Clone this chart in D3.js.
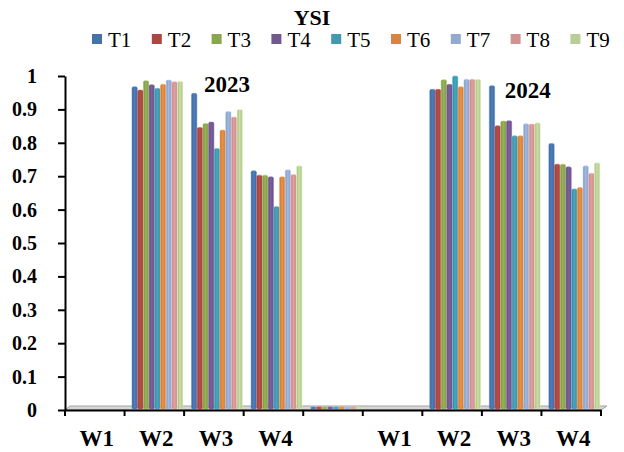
<!DOCTYPE html>
<html>
<head>
<meta charset="utf-8">
<script src="https://cdn.jsdelivr.net/npm/d3@7/dist/d3.min.js"></script>
<style>
  html, body { margin: 0; padding: 0; background: #ffffff; }
  svg text { font-family: 'Liberation Serif', 'DejaVu Serif', serif !important; }
</style>
</head>
<body>
<svg id="chart" width="624" height="452"></svg>
<script>
// Week categories for the two seasons; the blank slot separates 2023 from 2024
const categories = ['W1', 'W2', 'W3', 'W4', '', 'W1', 'W2', 'W3', 'W4'];
const seriesNames = ['T1', 'T2', 'T3', 'T4', 'T5', 'T6', 'T7', 'T8', 'T9'];
const seriesColors = ['#4672AA', '#AA4643', '#89A54E', '#71588F', '#4198AF', '#DB843D', '#93A9CF', '#D19392', '#B9CD96'];
const yearLabels = ['2023', '2024'];
const yTickValues = [0, 0.1, 0.2, 0.3, 0.4, 0.5, 0.6, 0.7, 0.8, 0.9, 1];
const yTickLabels = ['0', '0.1', '0.2', '0.3', '0.4', '0.5', '0.6', '0.7', '0.8', '0.9', '1'];

// YSI per treatment, one entry per category slot (null = no value)
const T1 = [null, 0.968, 0.948, 0.716, 0, null, 0.960, 0.971, 0.798];
const T2 = [null, 0.958, 0.846, 0.703, 0, null, 0.960, 0.851, 0.736];
const T3 = [null, 0.986, 0.858, 0.703, 0, null, 0.989, 0.865, 0.736];
const T4 = [null, 0.974, 0.862, 0.698, 0, null, 0.975, 0.866, 0.728];
const T5 = [null, 0.963, 0.783, 0.609, 0, null, 1.000, 0.821, 0.662];
const T6 = [null, 0.975, 0.838, 0.698, 0, null, 0.968, 0.821, 0.666];
const T7 = [null, 0.988, 0.894, 0.719, 0, null, 0.990, 0.857, 0.731];
const T8 = [null, 0.983, 0.877, 0.705, 0, null, 0.990, 0.856, 0.709];
const T9 = [null, 0.984, 0.900, 0.731, 0, null, 0.990, 0.860, 0.740];

const seriesValues = [T1, T2, T3, T4, T5, T6, T7, T8, T9];
const series = seriesNames.map((name, i) => ({ name, color: seriesColors[i], values: seriesValues[i] }));

const FONT = "'Liberation Serif', 'DejaVu Serif', serif";
const svg = d3.select('#chart');
const plot = { left: 65, right: 601, top: 76, bottom: 410 };
const depth = 5; // offset of the 3D floor

const x = d3.scaleBand().domain(d3.range(categories.length)).range([plot.left, plot.right]).paddingInner(0).paddingOuter(0);
const xs = d3.scaleBand().domain(seriesNames)
  .range([x.bandwidth() * 0.125, x.bandwidth() * 0.985]).padding(0);
const y = d3.scaleLinear().domain([0, 1]).range([plot.bottom, plot.top]);

// Shaded fills that give each column a rounded, lit look
const defs = svg.append('defs');
series.forEach((s, i) => {
  const c = d3.color(s.color);
  const g = defs.append('linearGradient').attr('id', 'grad' + i)
    .attr('x1', '0%').attr('x2', '100%').attr('y1', '0%').attr('y2', '0%');
  g.append('stop').attr('offset', '0%').attr('stop-color', c.darker(0.35).formatHex());
  g.append('stop').attr('offset', '45%').attr('stop-color', c.brighter(0.25).formatHex());
  g.append('stop').attr('offset', '80%').attr('stop-color', c.formatHex());
  g.append('stop').attr('offset', '100%').attr('stop-color', c.darker(0.3).formatHex());
});

// Floor slab
svg.append('polygon')
  .attr('points', [[plot.left, plot.bottom], [plot.left + depth, plot.bottom - depth + 1],
                   [plot.right + depth + 1, plot.bottom - depth + 1], [plot.right, plot.bottom]].map(p => p.join(',')).join(' '))
  .attr('fill', '#d6d6d6').attr('stroke', '#a3a3a3').attr('stroke-width', 1);

// Columns
const barGroup = svg.append('g');
series.forEach((s, i) => {
  barGroup.selectAll(null)
    .data(s.values.map((v, k) => ({ v, k })).filter(d => d.v !== null))
    .join('rect')
    .attr('x', d => x(d.k) + xs(s.name))
    .attr('width', xs.bandwidth() - 0.4)
    .attr('y', d => Math.min(y(d.v), plot.bottom - 3))
    .attr('height', d => Math.max(plot.bottom - 1 - y(d.v), 2))
    .attr('rx', 1.5)
    .attr('fill', `url(#grad${i})`)
    .attr('stroke', d3.color(s.color).brighter(0.6).formatHex())
    .attr('stroke-width', 0.5);
});

// Y axis
const yAxis = d3.axisLeft(y).tickValues(yTickValues)
  .tickFormat((d, i) => yTickLabels[i]).tickSize(7).tickSizeOuter(0).tickPadding(21);
const gy = svg.append('g').attr('transform', `translate(${plot.left},0)`).call(yAxis)
  .attr('font-family', FONT);
gy.select('.domain').attr('stroke', '#000').attr('stroke-width', 2);
gy.selectAll('.tick line').attr('stroke', '#000').attr('stroke-width', 2);
gy.selectAll('.tick text').attr('font-size', 20).attr('font-weight', 'bold')
  .attr('font-family', FONT).attr('fill', '#000');

// X axis: labels centred in each slot, ticks on the slot boundaries
const xAxis = d3.axisBottom(x).tickFormat(k => categories[k]).tickSize(0).tickSizeOuter(0).tickPadding(20);
const gx = svg.append('g').attr('transform', `translate(0,${plot.bottom})`).call(xAxis)
  .attr('font-family', FONT);
gx.select('.domain').attr('stroke', '#000').attr('stroke-width', 2);
gx.selectAll('.tick text').attr('font-size', 23).attr('font-weight', 'bold')
  .attr('font-family', FONT).attr('fill', '#000')
  .attr('dx', 2);
gx.selectAll('.boundary')
  .data(d3.range(categories.length + 1))
  .join('line')
  .attr('class', 'boundary')
  .attr('x1', k => plot.left + k * x.step()).attr('x2', k => plot.left + k * x.step())
  .attr('y1', 0).attr('y2', 6)
  .attr('stroke', '#000').attr('stroke-width', 2);

// Season labels above the W3 columns of each year
const yearSlots = [2, 7];
const yearOffsets = [13, 16];
const yearLevels = [0.952, 0.934];
svg.append('g').selectAll('text')
  .data(yearLabels)
  .join('text')
  .attr('x', (d, i) => x(yearSlots[i]) + x.bandwidth() / 2 + yearOffsets[i])
  .attr('y', (d, i) => y(yearLevels[i]))
  .attr('text-anchor', 'middle')
  .attr('font-family', FONT)
  .attr('font-size', 23).attr('font-weight', 'bold')
  .text(d => d);

// Title
svg.append('text').attr('x', 312).attr('y', 25).attr('text-anchor', 'middle')
  .attr('font-family', FONT)
  .attr('font-size', 22).attr('font-weight', 'bold').text('YSI');

// Legend
const legend = svg.append('g').attr('transform', 'translate(92,0)');
const items = legend.selectAll('g').data(series).join('g')
  .attr('transform', (d, i) => `translate(${i * 59.8},0)`);
items.append('rect').attr('x', 0).attr('y', 34).attr('width', 10).attr('height', 10).attr('fill', d => d.color);
items.append('text').attr('x', 16).attr('y', 47).attr('font-family', FONT).attr('font-size', 21).text(d => d.name);
</script>
</body>
</html>
